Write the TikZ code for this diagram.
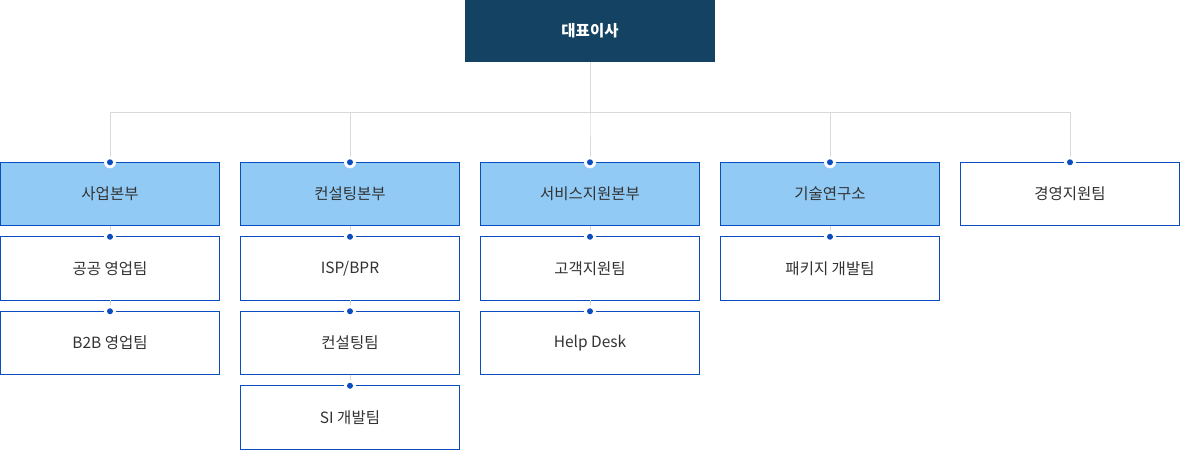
\documentclass[tikz,border=0pt]{standalone}
\usepackage{fontspec}
\setmainfont{Noto Sans CJK KR}
\usepackage{xcolor}
\usetikzlibrary{positioning}
\definecolor{ceo-navy}{HTML}{134263}
\definecolor{box-blue}{HTML}{0A4DC2}
\definecolor{div-fill}{HTML}{90CAF5}
\definecolor{link-gray}{HTML}{D9D9D9}
\definecolor{label-gray}{HTML}{333333}
\tikzset{
    ceo-box/.style = {fill=ceo-navy, text=white, rectangle, minimum width=250pt, minimum height=62pt, outer sep=0pt, font=\fontsize{15.5}{18}\selectfont\bfseries},
    div-box/.style = {draw=box-blue, fill=div-fill, line width=1.2pt, rectangle, minimum width=219pt, minimum height=63.5pt, outer sep=0pt, text=label-gray, font=\fontsize{15.5}{18}\selectfont},
    team-box/.style = {div-box, fill=white},
    org-line/.style = {draw=link-gray, line width=1pt},
}
\newcommand{\pindot}[1]{%
    \fill[white] (#1.north) circle (6pt);
    \fill[box-blue] (#1.north) circle (3pt);
}

\begin{document}
\begin{tikzpicture}[x=1pt, y=-1pt]
\useasboundingbox (0,0) rectangle (1180,450);
\node [ceo-box] (ceo) at (590,31) {대표이사};

% divisions
\node [div-box] (sales) at (110,194) {사업본부};
\node [div-box] (consult) at (350,194) {컨설팅본부};
\node [div-box] (service) at (590,194) {서비스지원본부};
\node [div-box] (lab) at (830,194) {기술연구소};
\node [team-box] (mgmt) at (1070,194) {경영지원팀};

% teams
\node [team-box, below=11pt of sales] (sales-pub) {공공 영업팀};
\node [team-box, below=11pt of sales-pub] (sales-b2b) {B2B 영업팀};
\node [team-box, below=11pt of consult] (consult-isp) {ISP/BPR};
\node [team-box, below=11pt of consult-isp] (consult-team) {컨설팅팀};
\node [team-box, below=11pt of consult-team] (consult-si) {SI 개발팀};
\node [team-box, below=11pt of service] (service-cs) {고객지원팀};
\node [team-box, below=11pt of service-cs] (service-help) {Help Desk};
\node [team-box, below=11pt of lab] (lab-pkg) {패키지 개발팀};

\foreach \d in {sales, consult, service, lab, mgmt}
    \draw [org-line] (ceo.south) -- ++(0,50) -| (\d.north);
\draw [org-line] (sales) -- (sales-pub);
\draw [org-line] (sales-pub) -- (sales-b2b);
\draw [org-line] (consult) -- (consult-isp);
\draw [org-line] (consult-isp) -- (consult-team);
\draw [org-line] (consult-team) -- (consult-si);
\draw [org-line] (service) -- (service-cs);
\draw [org-line] (service-cs) -- (service-help);
\draw [org-line] (lab) -- (lab-pkg);

\foreach \n in {sales, consult, service, lab, mgmt, sales-pub, sales-b2b, consult-isp, consult-team, consult-si, service-cs, service-help, lab-pkg}
    {\pindot{\n}}
\end{tikzpicture}
\end{document}
